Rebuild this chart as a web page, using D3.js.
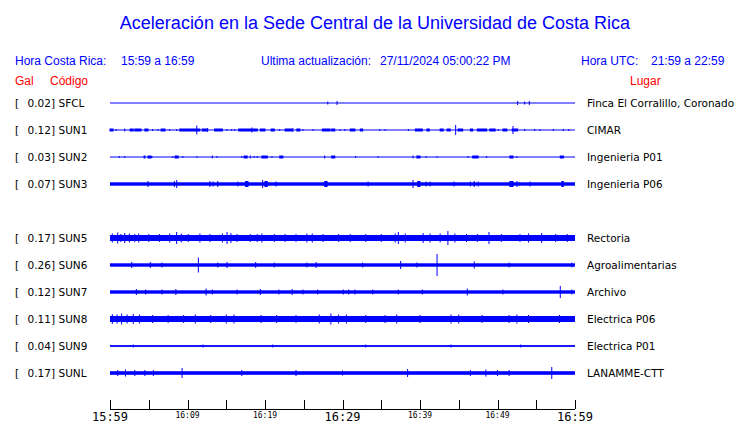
<!DOCTYPE html>
<html>
<head>
<meta charset="utf-8">
<script src="https://cdn.jsdelivr.net/npm/d3@7"></script>
<style>
  html, body { margin: 0; padding: 0; background: #fff; }
  svg { display: block; }
</style>
</head>
<body>
<svg id="chart" width="740" height="423"></svg>
<script>
// ---------------- DATA ----------------
const title = "Aceleración en la Sede Central de la Universidad de Costa Rica";
const horaCR = "15:59 a 16:59";
const horaUTC = "21:59 a 22:59";
const actualizacion = "27/11/2024 05:00:22 PM";

// station codes in row order (SUN4 has no data, its row stays empty)
const codes = ["SFCL","SUN1","SUN2","SUN3","SUN4","SUN5","SUN6","SUN7","SUN8","SUN9","SUNL"];
const gal   = [0.02, 0.12, 0.03, 0.07, null, 0.17, 0.26, 0.12, 0.11, 0.04, 0.17];
const places = ["Finca El Corralillo, Coronado","CIMAR","Ingenieria P01","Ingenieria P06", null,
                "Rectoria","Agroalimentarias","Archivo","Electrica P06","Electrica P01","LANAMME-CTT"];

// background (noise) amplitude of every trace, relative units
const baseAmp = [0.5, 0.5, 0.5, 1.7, null, 3.0, 1.7, 1.7, 3.0, 0.9, 1.8];

// bursts: [start minute, end minute, amplitude] measured from 15:59
const bursts = {
  SFCL: [[28.1,28.1,1.5],[29.3,29.3,2],[52.6,52.6,2],[53.5,53.5,1.5],[54.1,54.1,2]],
  SUN1: [[0,0.4,1.5],[0.8,0.8,1],[1.9,1.9,1.5],[2.6,3.0,1.5],[3.2,4.0,1.5],[4.5,4.9,1.5],[5.5,5.5,1],
         [6.2,6.2,1],[6.6,7.1,1.5],[7.7,7.7,1],[8.6,8.6,1],[9.0,11.6,1.5],[11.2,11.2,4.5],[11.9,12.5,1.5],
         [12.6,12.6,2],[13.5,14.5,1.5],[15.1,15.1,1],[15.7,15.7,1],[16.1,16.1,1],[16.6,19.0,1.5],[18.3,18.3,2.5],
         [19.4,20.0,1.5],[20.8,21.2,1.5],[21.9,21.9,1],[22.6,23.5,1.5],[23.6,23.6,2],[24.1,24.5,1.5],
         [24.9,24.9,1],[26.2,26.2,1],[27.4,28.4,1.5],[28.6,29.0,1.5],[29.7,29.7,1],[30.3,30.3,1],
         [31.0,31.6,1.5],[32.3,32.6,1.5],[34.8,34.8,1],[35.5,35.5,1],[38.5,38.5,1],[39.4,40.3,1.5],
         [40.9,41.2,1.5],[42.6,43.0,1.5],[43.5,43.9,1.5],[44.6,44.6,5],[44.9,45.5,1.5],[46.5,46.8,1.5],
         [47.4,48.6,1.5],[49.0,49.7,1.5],[50.1,50.1,1],[50.7,51.2,1.5],[51.9,52.6,1.5],[52.0,52.0,4],
         [53.5,53.5,1],[54.8,54.8,1],[55.5,55.5,1],[57.2,57.2,1],[58.5,58.5,1],[59.2,59.2,1]],
  SUN2: [[1.2,1.2,1],[1.9,1.9,1],[4.4,4.5,1.5],[4.9,5.3,1.5],[5.4,5.4,1],[8.1,8.1,1],[8.4,8.8,1.5],
         [9.4,9.4,1],[11.2,11.2,0.8],[13.2,13.2,1.5],[13.8,13.8,1],[17.0,17.0,1],[17.3,17.7,1.5],[18.1,18.1,1.5],
         [18.6,18.6,1],[19.0,19.0,1],[19.6,20.3,1.5],[20.9,20.9,1],[21.9,22.3,1.5],[27.7,27.7,1.5],
         [28.6,29.0,1.5],[31.7,31.7,1],[34.6,34.6,0.8],[39.1,39.1,1.5],[39.6,40.0,1.5],[40.8,40.8,1],
         [42.2,42.2,0.8],[46.2,46.2,1],[46.8,47.5,1.5],[48.6,48.6,1],[51.6,52.0,1.5],[52.5,52.5,1],
         [58.1,58.5,1.5]],
  SUN3: [[4.9,4.9,3],[8.3,8.3,3],[8.6,8.6,4],[12.9,12.9,3],[13.3,13.3,2.5],[13.9,13.9,3],[16.5,16.5,2.5],
         [17.5,17.8,3],[19.7,19.7,4],[20.0,20.3,3],[21.4,21.4,2.5],[27.7,28.0,3],[33.3,33.3,2.5],
         [39.1,39.1,4],[39.7,40.0,3],[40.8,40.8,2.5],[41.3,41.3,2.5],[44.4,44.4,2.5],[46.5,46.5,2.5],
         [47.0,47.0,3],[47.5,47.5,2.5],[51.6,52.0,3],[52.5,52.5,3],[54.2,54.2,2.5],[58.3,58.5,3]],
  SUN5: [[0.3,0.3,4.5],[1.0,1.0,5.5],[1.4,1.4,4],[1.9,1.9,5],[2.5,2.5,4.5],[3.2,3.2,4],[3.7,3.7,4.5],
         [5.0,5.0,4],[6.4,6.4,4],[7.7,7.7,4.5],[8.6,8.6,6],[9.2,9.2,4.5],[10.1,10.1,4],[11.6,11.6,4.5],
         [12.9,12.9,4],[14.5,14.5,4.5],[15.1,15.1,6],[15.6,15.6,5],[16.4,16.4,4],[18.1,18.1,4],[19.0,19.0,4],
         [19.6,19.6,4.5],[21.2,21.2,4],[22.6,22.6,4],[24.0,24.0,4],[25.4,25.4,4.5],[26.1,26.1,4.5],
         [27.5,27.5,4],[29.5,29.5,4],[31.0,31.0,4],[33.0,33.0,4],[35.0,35.0,4],[36.8,36.8,4.5],[37.2,37.2,6],
         [38.1,38.1,4.5],[40.4,40.4,5],[41.3,41.3,4.5],[42.6,42.6,4.5],[43.6,43.6,7],[44.5,44.5,4.5],
         [46.0,46.0,4],[47.4,47.4,4],[48.9,48.9,6],[50.5,50.5,4],[52.9,52.9,4],[54.0,54.0,4.5],
         [55.7,55.7,5],[57.5,57.5,4],[59.0,59.0,4]],
  SUN6: [[2.8,2.8,3],[5.2,5.2,3],[6.7,6.7,2.5],[11.4,11.4,7.5],[13.9,13.9,2.5],[15.1,15.1,3],[18.8,18.8,3],
         [21.2,21.2,2.5],[25.4,25.4,2.5],[26.6,26.6,3],[32.6,32.6,2.5],[37.5,37.5,4],[39.6,39.6,2.5],
         [42.2,42.2,11],[47.0,47.0,3.5],[51.5,51.5,2.5],[59.6,59.6,2.5]],
  SUN7: [[3.4,3.4,3],[4.6,4.6,2.5],[6.7,6.7,2.5],[8.5,8.5,3],[12.4,12.4,3.5],[13.2,13.2,2.5],[16.4,16.4,2.5],
         [19.4,19.4,3],[21.8,21.8,2.5],[23.5,23.5,3],[24.9,24.9,2.5],[26.8,26.8,2.5],[30.1,30.1,2.5],
         [30.8,30.8,2.5],[31.6,31.6,2.5],[33.9,33.9,2.5],[37.2,37.2,2.5],[40.3,40.3,2.5],[46.1,46.1,3.5],
         [50.7,50.7,2.5],[58.1,58.1,6],[59.6,59.6,2.5]],
  SUN8: [[0.3,0.3,5],[0.9,0.9,4.5],[1.5,1.5,5.5],[2.2,2.2,4.5],[3.0,3.0,5],[3.8,3.8,4.5],[5.5,5.5,4],
         [7.5,7.5,4],[9.5,9.5,4],[11.0,11.0,4.5],[13.0,13.0,4],[15.0,15.0,4.5],[16.0,16.0,4.5],[19.5,19.5,4],
         [21.5,21.5,4],[24.0,24.0,4],[27.0,27.0,4.5],[28.5,28.5,5.5],[29.5,29.5,4.5],[30.5,30.5,4.5],
         [33.0,33.0,4],[35.5,35.5,4],[37.0,37.0,4.5],[40.0,40.0,4],[44.0,44.0,4.5],[45.0,45.0,4.5],
         [48.0,48.0,4],[51.5,51.5,4],[52.5,52.5,4.5],[54.0,54.0,4],[58.0,58.0,4]],
  SUN9: [[3.0,3.0,1.5],[12.0,12.0,1.5],[21.0,21.0,1.5],[33.0,33.0,1.5],[44.0,44.0,1.5],[53.0,53.0,1.5]],
  SUNL: [[1.0,1.0,3],[2.0,2.0,3.5],[3.2,3.2,3],[4.5,4.5,3],[5.6,5.6,3],[9.3,9.3,5],[17.0,17.0,3],
         [24.0,24.0,3],[30.0,30.0,2.5],[38.4,38.4,4],[46.5,46.5,3],[48.5,48.5,3.5],[50.0,50.0,3],
         [51.5,51.5,3],[57.0,57.0,6]]
};

// time axis
const axisMinutes = d3.range(0, 61, 5);
const majorLabels = ["15:59", "16:29", "16:59"];          // at 0, 30, 60 min
const minorLabels = ["16:09", "16:19", "16:39", "16:49"]; // at 10, 20, 40, 50 min

// ---------------- DRAW ----------------
const svg = d3.select("#chart");
const BLUE = "#0000ff", RED = "#ff0000";
const sans = "'Liberation Sans', Arial, Helvetica, sans-serif";
const dv = "'DejaVu Sans', sans-serif";
const mono = "'DejaVu Sans Mono', monospace";

const x = d3.scaleLinear().domain([0, 60]).range([110, 575]);
const y = d3.scalePoint().domain(codes).range([103, 373]);
const amp = d3.scaleLinear().domain([0, 1]).range([0, 1]);

svg.append("text").attr("x", 375).attr("y", 29).attr("text-anchor", "middle")
  .style("font-family", sans).style("font-size", "18px").attr("fill", BLUE).text(title);

const hdr = [
  ["Hora Costa Rica:", 15], [horaCR, 121],
  ["Ultima actualización:", 261], [actualizacion, 380],
  ["Hora UTC:", 581], [horaUTC, 651]
];
svg.selectAll("text.hdr").data(hdr).enter().append("text").attr("class", "hdr")
  .attr("x", d => d[1]).attr("y", 65)
  .style("font-family", sans).style("font-size", "12px").attr("fill", BLUE).text(d => d[0]);

[["Gal", 15], ["Código", 50], ["Lugar", 630]].forEach(d => {
  svg.append("text").attr("x", d[1]).attr("y", 85)
    .style("font-family", sans).style("font-size", "12px").attr("fill", RED).text(d[0]);
});

const rows = codes.map((c, i) => ({ code: c, gal: gal[i], place: places[i], base: baseAmp[i] }))
  .filter(d => d.gal !== null);

const g = svg.selectAll("g.row").data(rows).enter().append("g")
  .attr("class", "row").attr("transform", d => `translate(0,${y(d.code)})`);

g.append("text").attr("x", 15).attr("y", 4).style("font-family", dv).style("font-size", "10.5px")
  .attr("fill", "#000").text("[");
g.append("text").attr("x", 55).attr("y", 4).attr("text-anchor", "end").style("font-family", dv)
  .style("font-size", "10.5px").attr("fill", "#000").text(d => d.gal.toFixed(2) + "]");
g.append("text").attr("x", 58.5).attr("y", 4).style("font-family", dv).style("font-size", "10.5px")
  .attr("fill", "#000").text(d => d.code);
g.append("text").attr("x", 587).attr("y", 4).style("font-family", dv).style("font-size", "10.5px")
  .attr("fill", "#000").text(d => d.place);

// background band
g.append("rect")
  .attr("x", x(0)).attr("width", x(60) - x(0))
  .attr("y", d => -Math.max(0.5, amp(d.base)))
  .attr("height", d => Math.max(1, 2 * amp(d.base)))
  .attr("fill", BLUE);

// bursts
g.each(function (d) {
  d3.select(this).selectAll("rect.b").data(bursts[d.code] || []).enter().append("rect")
    .attr("class", "b")
    .attr("x", b => x(b[0]) - 0.5)
    .attr("width", b => Math.max(1, x(b[1]) - x(b[0]) + 1))
    .attr("y", b => -amp(b[2]))
    .attr("height", b => 2 * amp(b[2]))
    .attr("fill", BLUE);
});

// axis
const ax = svg.append("g");
ax.append("line").attr("x1", x(0)).attr("x2", x(60)).attr("y1", 409.5).attr("y2", 409.5)
  .attr("stroke", "#000").attr("stroke-width", 1);
ax.selectAll("line.t").data(axisMinutes).enter().append("line").attr("class", "t")
  .attr("x1", d => Math.round(x(d)) + 0.5).attr("x2", d => Math.round(x(d)) + 0.5)
  .attr("y1", 400).attr("y2", 409).attr("stroke", "#000");
majorLabels.forEach((lab, i) => {
  ax.append("text").attr("x", x(i * 30)).attr("y", 421).attr("text-anchor", "middle")
    .style("font-family", mono).style("font-size", "12px").attr("fill", "#000").text(lab);
});
[10, 20, 40, 50].forEach((m, i) => {
  ax.append("text").attr("x", x(m)).attr("y", 418).attr("text-anchor", "middle")
    .style("font-family", mono).style("font-size", "8px").attr("fill", "#000").text(minorLabels[i]);
});
</script>
</body>
</html>
